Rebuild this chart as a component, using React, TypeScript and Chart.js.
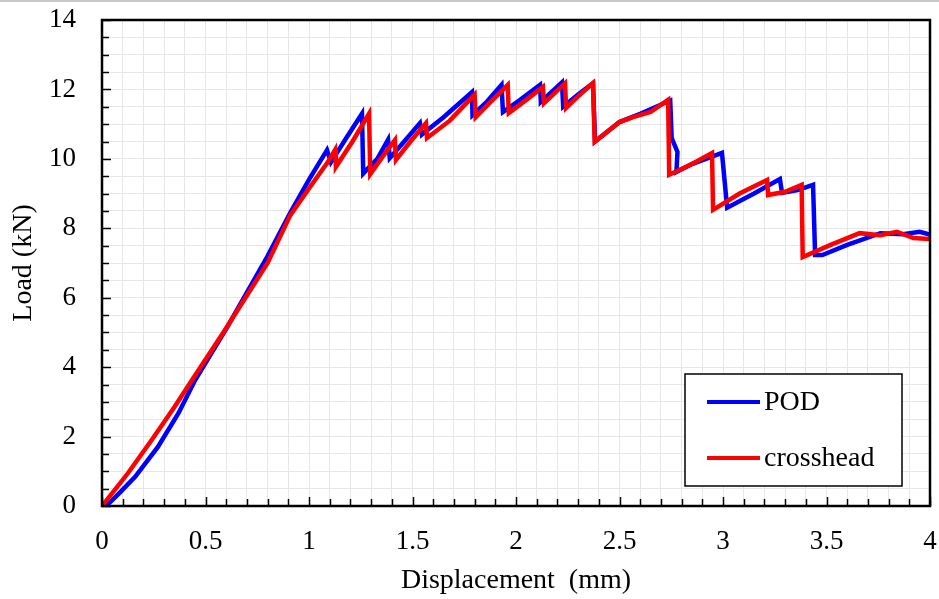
import React, { useEffect, useRef } from "react";
import { Chart, registerables } from "chart.js";

Chart.register(...registerables);

// Load–displacement readings: displacement (mm) and load (kN)
const podDisp = [
  0.02, 0.08, 0.16, 0.27, 0.37, 0.45, 0.6, 0.8, 0.91, 1.0, 1.087, 1.106, 1.18, 1.256, 1.262,
  1.33, 1.382, 1.39, 1.46, 1.536, 1.545, 1.65, 1.787, 1.79, 1.86, 1.93, 1.937, 2.02, 2.116,
  2.12, 2.222, 2.228, 2.3, 2.372, 2.382, 2.5, 2.6, 2.745, 2.752, 2.78, 2.775, 2.85, 2.995,
  3.02, 3.15, 3.275, 3.285, 3.36, 3.435, 3.445, 3.48, 3.6, 3.76, 3.87, 3.95, 4.0,
];
const podLoad = [
  0, 0.35, 0.84, 1.7, 2.68, 3.63, 5.1, 7.2, 8.45, 9.4, 10.25, 9.9, 10.6, 11.3, 9.58,
  10.0, 10.55, 10.02, 10.5, 11.03, 10.7, 11.2, 11.92, 11.26, 11.65, 12.13, 11.35, 11.7, 12.13,
  11.64, 12.2, 11.5, 11.85, 12.18, 10.5, 11.06, 11.3, 11.68, 10.6, 10.2, 9.62, 9.85, 10.17,
  8.59, 9.0, 9.42, 9.02, 9.1, 9.25, 7.23, 7.23, 7.52, 7.86, 7.83, 7.9, 7.82,
];

const crossDisp = [
  0, 0.06, 0.126, 0.24, 0.35, 0.435, 0.594, 0.8, 0.91, 1.005, 1.09, 1.126, 1.13, 1.21, 1.29,
  1.296, 1.36, 1.415, 1.42, 1.49, 1.565, 1.57, 1.68, 1.8, 1.805, 1.87, 1.96, 1.965, 2.05, 2.13,
  2.135, 2.237, 2.242, 2.3, 2.372, 2.38, 2.5, 2.565, 2.65, 2.735, 2.74, 2.85, 2.947, 2.952,
  3.08, 3.213, 3.218, 3.3, 3.38, 3.385, 3.52, 3.66, 3.76, 3.84, 3.92, 4.0,
];
const crossLoad = [
  0, 0.45, 0.95, 1.9, 2.85, 3.63, 5.07, 7.0, 8.38, 9.19, 9.9, 10.26, 9.77, 10.5, 11.3,
  9.56, 10.1, 10.54, 9.97, 10.5, 11.03, 10.6, 11.1, 11.85, 11.2, 11.6, 12.13, 11.32, 11.7, 12.07,
  11.6, 12.18, 11.47, 11.8, 12.18, 10.49, 11.06, 11.2, 11.35, 11.7, 9.54, 9.85, 10.17, 8.53,
  9.0, 9.39, 8.96, 9.05, 9.25, 7.17, 7.52, 7.86, 7.8, 7.9, 7.72, 7.69,
];

const seriesNames = ["POD", "crosshead"];
const seriesColors = ["#0000ff", "#ff0000"];

const SERIF = "'Liberation Serif', 'Times New Roman', serif";

const toPoints = (xs: number[], ys: number[]) => xs.map((x, i) => ({ x, y: ys[i] }));

const noOverflow = (s: any) => {
  s.paddingLeft = 0;
  s.paddingRight = 0;
  s.paddingTop = 0;
  s.paddingBottom = 0;
};

// Frame, inward tick marks, background and the boxed legend
const framePlugin = {
  id: "frame",
  beforeDraw(chart: any) {
    const { ctx, width, height } = chart;
    ctx.save();
    ctx.fillStyle = "#ffffff";
    ctx.fillRect(0, 0, width, height);
    ctx.fillStyle = "#c8c8c8";
    ctx.fillRect(0, 0, width, 2);
    ctx.restore();
  },
  afterDraw(chart: any) {
    const { ctx, chartArea: a, scales } = chart;
    const xs = scales.x;
    const ys = scales.y;
    ctx.save();
    ctx.strokeStyle = "#000";
    ctx.lineWidth = 1.5;
    // x-axis ticks, pointing up into the plot
    for (let i = 0; i <= 40; i++) {
      const v = i / 10;
      const px = Math.round(xs.getPixelForValue(v)) + 0.5;
      const len = i % 5 === 0 ? 9 : 7;
      ctx.beginPath();
      ctx.moveTo(px, a.bottom);
      ctx.lineTo(px, a.bottom - len);
      ctx.stroke();
    }
    // y-axis ticks, pointing right into the plot
    for (let i = 0; i <= 28; i++) {
      const v = i / 2;
      const py = Math.round(ys.getPixelForValue(v)) + 0.5;
      const len = i % 4 === 0 ? 9 : 7;
      ctx.beginPath();
      ctx.moveTo(a.left, py);
      ctx.lineTo(a.left + len, py);
      ctx.stroke();
    }
    ctx.lineWidth = 2.5;
    ctx.strokeRect(a.left, a.top, a.right - a.left, a.bottom - a.top);

    // legend box
    const bw = 217;
    const bh = 112;
    const bx = a.right - 28 - bw;
    const by = a.bottom - 20 - bh;
    ctx.fillStyle = "#fff";
    ctx.fillRect(bx, by, bw, bh);
    ctx.lineWidth = 1.5;
    ctx.strokeRect(bx, by, bw, bh);
    ctx.font = `28px ${SERIF}`;
    ctx.textBaseline = "middle";
    ctx.textAlign = "left";
    seriesNames.forEach((name, i) => {
      const ly = by + 28 + i * 56;
      ctx.strokeStyle = seriesColors[i];
      ctx.lineWidth = 4;
      ctx.beginPath();
      ctx.moveTo(bx + 22, ly);
      ctx.lineTo(bx + 75, ly);
      ctx.stroke();
      ctx.fillStyle = "#000";
      ctx.fillText(name, bx + 79, ly + 1);
    });
    ctx.restore();
  },
};

export default function App() {
  const canvasRef = useRef<HTMLCanvasElement | null>(null);

  useEffect(() => {
    const canvas = canvasRef.current;
    if (!canvas) return;
    const chart = new Chart(canvas, {
      type: "scatter",
      data: {
        datasets: [
          {
            label: seriesNames[0],
            data: toPoints(podDisp, podLoad),
            showLine: true,
            borderColor: seriesColors[0],
            backgroundColor: seriesColors[0],
            borderWidth: 4.5,
            pointRadius: 0,
            tension: 0,
            order: 1,
          },
          {
            label: seriesNames[1],
            data: toPoints(crossDisp, crossLoad),
            showLine: true,
            borderColor: seriesColors[1],
            backgroundColor: seriesColors[1],
            borderWidth: 4.5,
            pointRadius: 0,
            tension: 0,
            order: 0,
          },
        ],
      },
      options: {
        responsive: false,
        animation: false,
        layout: { padding: { top: 20, right: 9, left: 0, bottom: 0 } },
        plugins: {
          legend: { display: false },
          tooltip: { enabled: false },
        },
        scales: {
          x: {
            type: "linear",
            min: 0,
            max: 4,
            afterFit: (s: any) => {
              s.height = 93;
              noOverflow(s);
            },
            grid: { color: "#e6e6e6", lineWidth: 1, drawTicks: false },
            border: { display: false },
            ticks: {
              stepSize: 0.1,
              autoSkip: false,
              maxRotation: 0,
              minRotation: 0,
              padding: 20,
              color: "#000",
              font: { family: SERIF, size: 27 },
              callback: (v: any) => {
                const t = Math.round(Number(v) * 10);
                return t % 5 === 0 ? String(t / 10) : "";
              },
            },
            title: {
              display: true,
              text: "Displacement  (mm)",
              color: "#000",
              font: { family: SERIF, size: 28 },
              padding: 2,
            },
          },
          y: {
            type: "linear",
            min: 0,
            max: 14,
            afterFit: (s: any) => {
              s.width = 102;
              noOverflow(s);
            },
            grid: { color: "#e6e6e6", lineWidth: 1, drawTicks: false },
            border: { display: false },
            ticks: {
              stepSize: 0.5,
              autoSkip: false,
              padding: 26,
              color: "#000",
              font: { family: SERIF, size: 27 },
              callback: (v: any) => {
                const t = Math.round(Number(v) * 2);
                return t % 4 === 0 ? String(t / 2) : "";
              },
            },
            title: {
              display: true,
              text: "Load (kN)",
              color: "#000",
              font: { family: SERIF, size: 28 },
              padding: 7,
            },
          },
        },
      },
      plugins: [framePlugin],
    });
    return () => chart.destroy();
  }, []);

  return (
    <div style={{ position: "absolute", left: 0, top: 0, width: 939, height: 599, background: "#fff" }}>
      <canvas ref={canvasRef} width={939} height={599} style={{ display: "block" }} />
    </div>
  );
}
